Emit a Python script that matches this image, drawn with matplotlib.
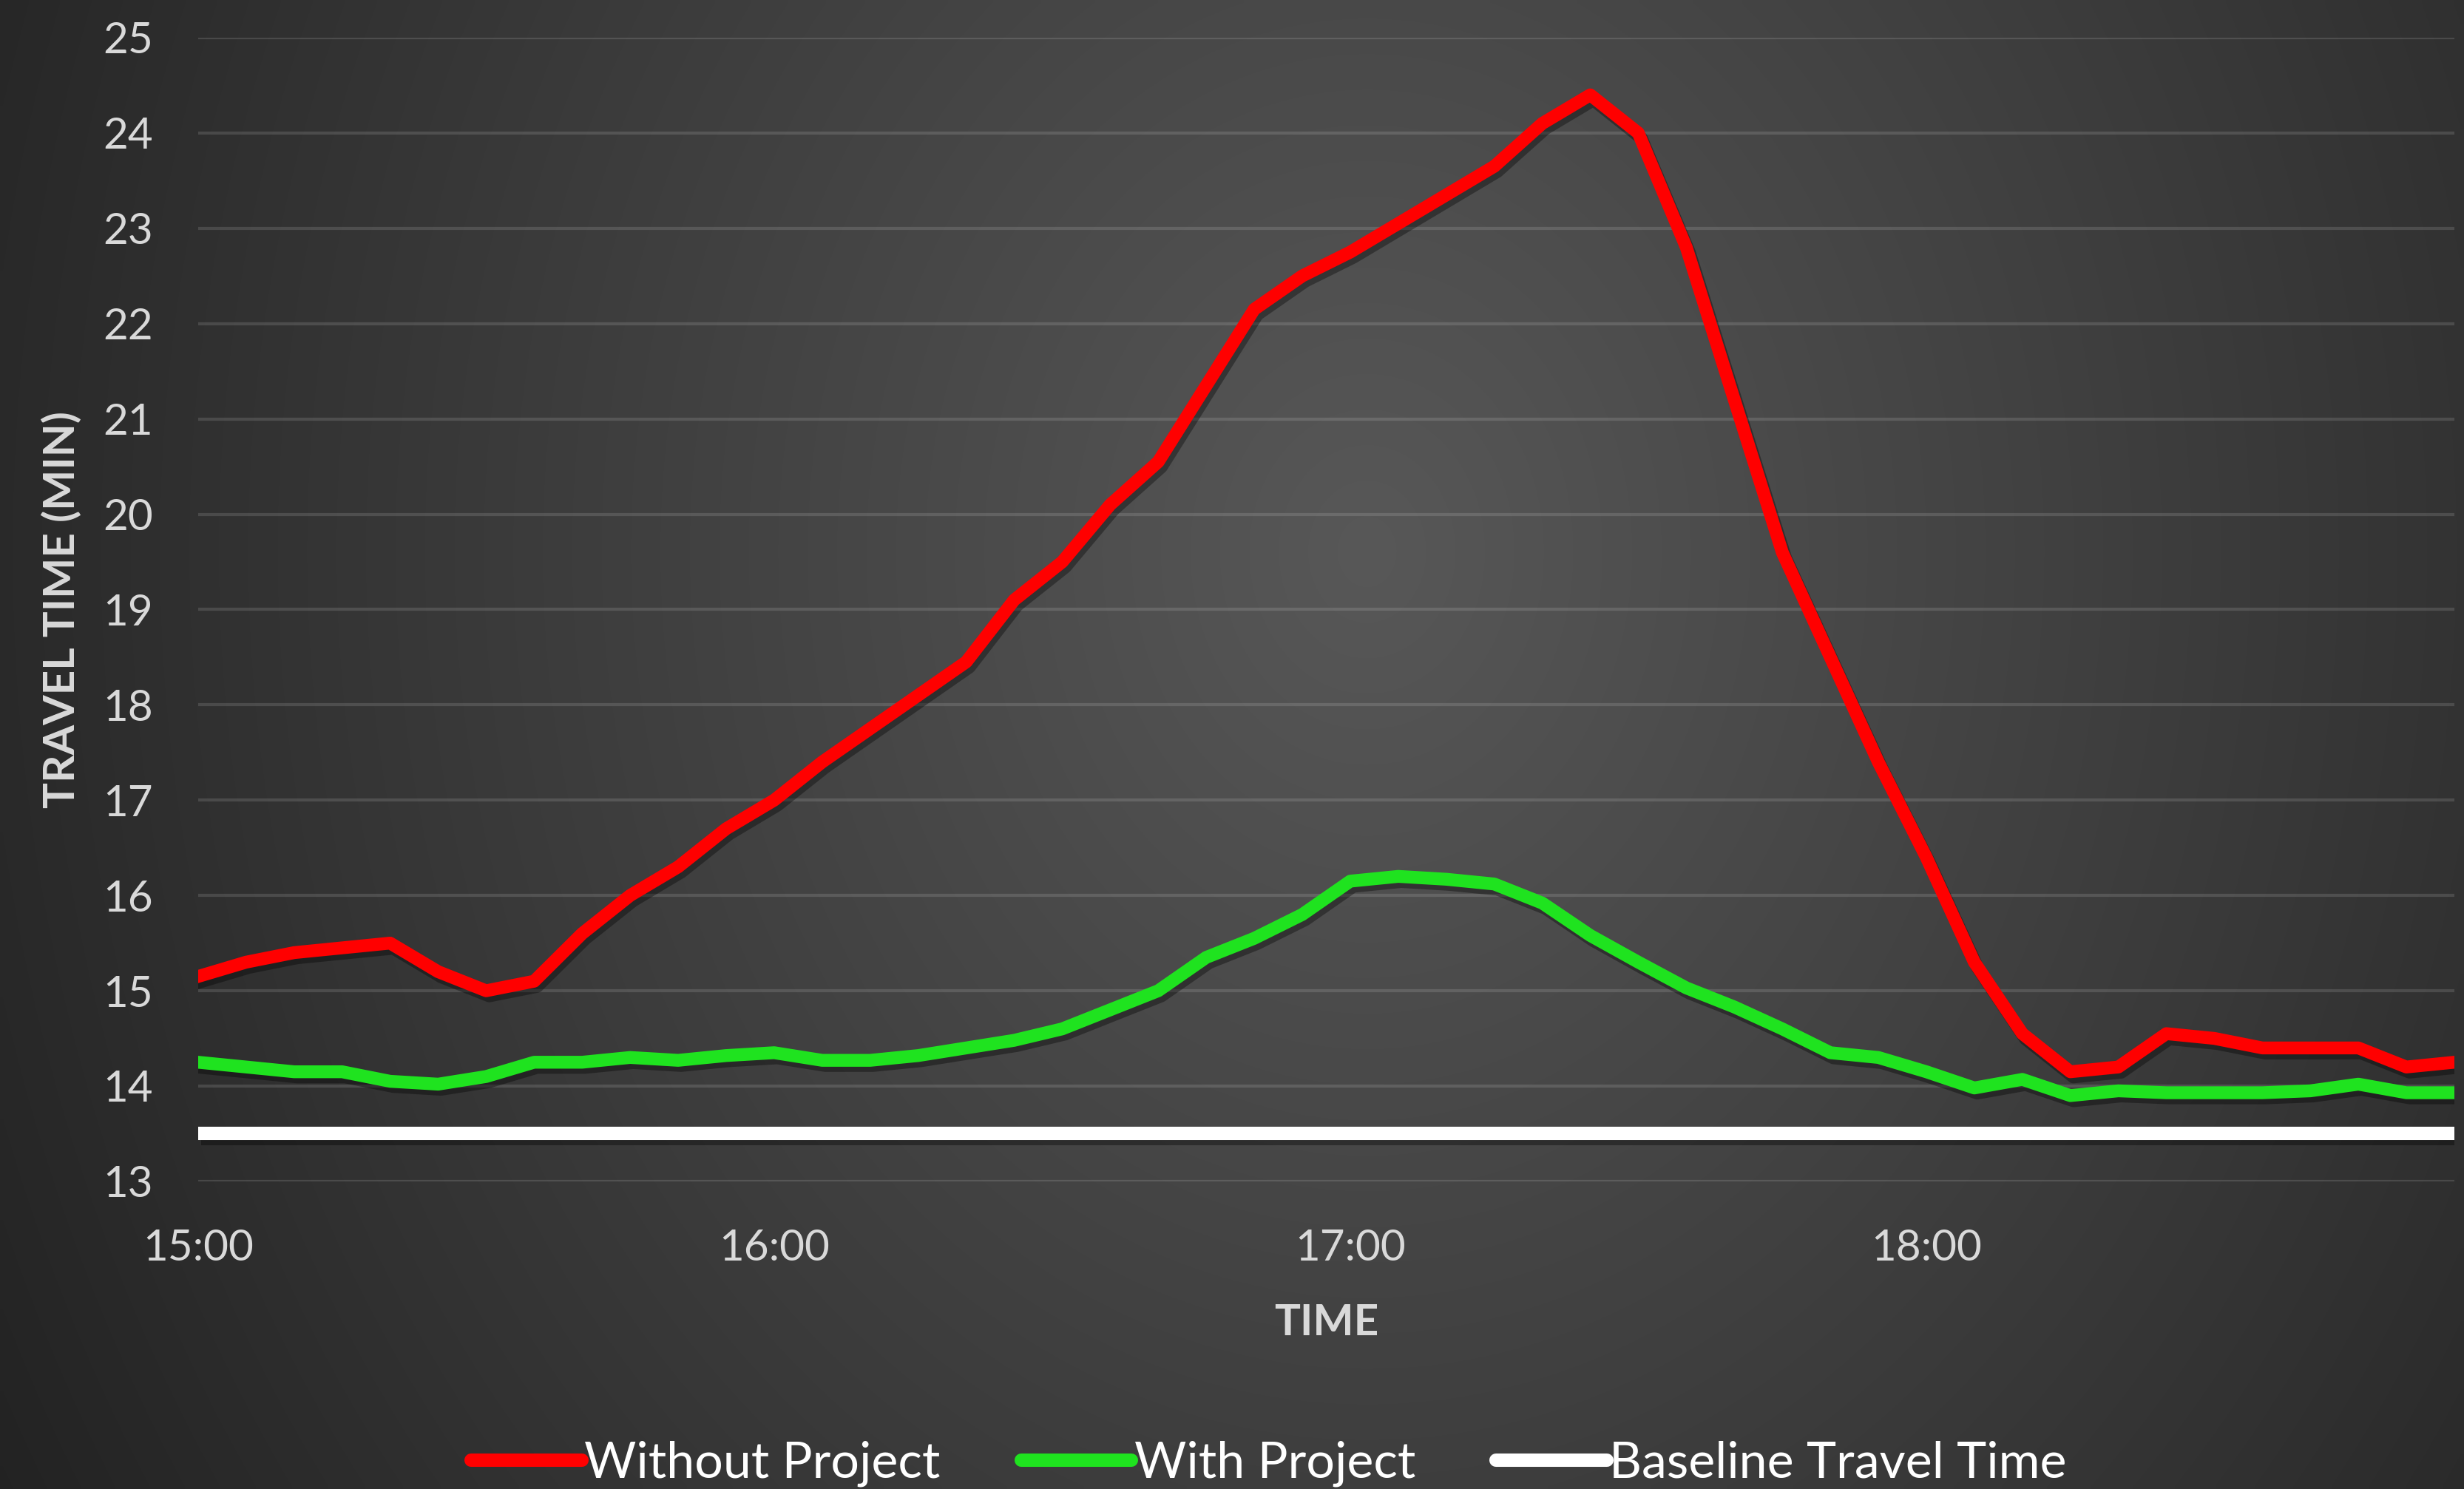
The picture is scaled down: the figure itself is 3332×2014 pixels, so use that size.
import numpy as np
import matplotlib
matplotlib.use('Agg')
import matplotlib.pyplot as plt
import matplotlib.patheffects as pe

# data (minutes after 15:00, 5-minute steps)
timeMinutes = np.arange(0, 240, 5)
tickMinutes = [0, 60, 120, 180]
tickLabels = ['15:00', '16:00', '17:00', '18:00']

withoutProject = [15.15, 15.3, 15.4, 15.45, 15.5, 15.2, 15.0, 15.1, 15.6, 16.0,
                  16.3, 16.7, 17.0, 17.4, 17.75, 18.1, 18.45, 19.1, 19.5, 20.1,
                  20.55, 21.35, 22.15, 22.5, 22.75, 23.05, 23.35, 23.65, 24.1, 24.4,
                  24.0, 22.8, 21.2, 19.6, 18.5, 17.4, 16.4, 15.3, 14.55, 14.15,
                  14.2, 14.55, 14.5, 14.4, 14.4, 14.4, 14.2, 14.25]
withProject = [14.25, 14.2, 14.15, 14.15, 14.05, 14.02, 14.1, 14.25, 14.25, 14.3,
               14.27, 14.32, 14.35, 14.27, 14.27, 14.32, 14.4, 14.48, 14.6, 14.8,
               15.0, 15.35, 15.55, 15.8, 16.15, 16.2, 16.17, 16.12, 15.92, 15.58,
               15.3, 15.03, 14.83, 14.6, 14.35, 14.3, 14.15, 13.98, 14.07, 13.9,
               13.95, 13.93, 13.93, 13.93, 13.95, 14.02, 13.93, 13.93]
baselineTime = 13.5

# fonts
textColor = '#d9d9d9'
mainFont = ['Lato', 'Open Sans', 'DejaVu Sans']
legendFont = ['Liberation Sans Narrow', 'Lato', 'DejaVu Sans']

fig = plt.figure(figsize=(33.32, 20.14), dpi=100)

# radial gradient background
bg = fig.add_axes([0, 0, 1, 1], zorder=-10)
gx, gy = np.meshgrid(np.linspace(0, 1, 400), np.linspace(0, 1, 250))
r = np.sqrt(((gx - 0.555) / 0.575) ** 2 + ((gy - 0.37) / 1.15) ** 2)
shade = (88 - 48 * np.clip(r, 0, 1.2)) / 255.0
bg.imshow(np.dstack([shade, shade, shade]), extent=[0, 1, 0, 1], aspect='auto',
          origin='upper', interpolation='bilinear')
bg.set_axis_off()

ax = fig.add_axes([0.0804, 0.2066, 0.9157, 0.7681])
ax.set_facecolor('none')

shadow = [pe.SimpleLineShadow(offset=(3, -5), shadow_color='black', alpha=0.35), pe.Normal()]
ax.plot(timeMinutes, [baselineTime] * len(timeMinutes), color='white', lw=13,
        solid_capstyle='butt', label='Baseline Travel Time', path_effects=shadow, zorder=3)
ax.plot(timeMinutes, withProject, color='#1fe31f', lw=12.5, solid_joinstyle='round',
        label='With Project', path_effects=shadow, zorder=4)
ax.plot(timeMinutes, withoutProject, color='#ff0000', lw=12.5, solid_joinstyle='round',
        label='Without Project', path_effects=shadow, zorder=5)

ax.set_xlim(0, 235)
ax.set_ylim(13, 25)
ax.set_yticks(range(13, 26))
ax.set_xticks(tickMinutes)
ax.set_xticklabels(tickLabels)
ax.grid(axis='y', color='white', alpha=0.13, lw=3)
ax.grid(axis='x', visible=False)
ax.set_axisbelow(True)
for s in ax.spines.values():
    s.set_visible(False)
ax.tick_params(axis='both', length=0, labelcolor=textColor, labelsize=42)
ax.tick_params(axis='y', pad=44)
ax.tick_params(axis='x', pad=46)
for t in ax.get_xticklabels() + ax.get_yticklabels():
    t.set_family(mainFont)

ax.set_xlabel('TIME', fontsize=42, fontweight='bold', color=textColor, family=mainFont)
ax.xaxis.set_label_coords(0.5, -0.107)
ax.set_ylabel('TRAVEL TIME (MIN)', fontsize=42, fontweight='bold', color=textColor, family=mainFont)
ax.yaxis.set_label_coords(-0.0515, 0.5)

handles, labels = ax.get_legend_handles_labels()
order = [2, 1, 0]
leg = fig.legend([handles[i] for i in order], [labels[i] for i in order],
                 loc='center', bbox_to_anchor=(0.515, 0.017), ncol=3, frameon=False,
                 prop={'family': legendFont, 'size': 49}, labelcolor='white',
                 handlelength=2.2, handletextpad=0.05, columnspacing=1.6)
for h in leg.get_lines():
    h.set_solid_capstyle('round')
    h.set_linewidth(13)
    h.set_path_effects([])

fig.savefig('out.png', dpi=100)
